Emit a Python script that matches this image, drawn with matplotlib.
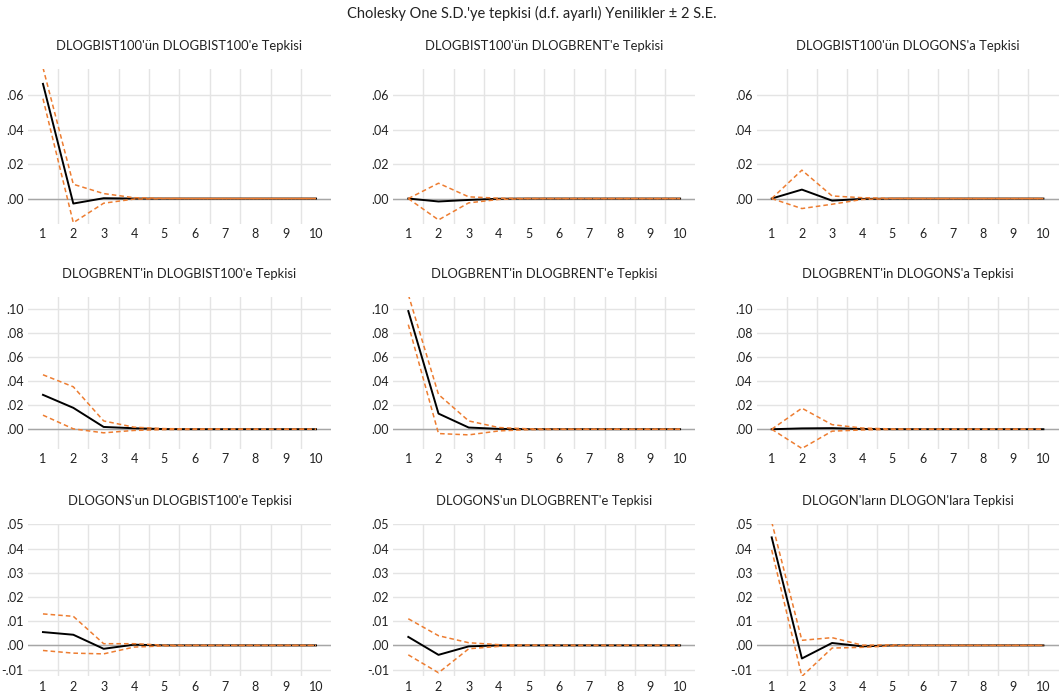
import numpy as np
import matplotlib
matplotlib.use("Agg")
from matplotlib import pyplot as plt
from matplotlib.ticker import FuncFormatter, MultipleLocator

plt.rcParams["font.family"] = ["Lato", "DejaVu Sans"]

steps = np.arange(1, 11)

titles = [
    "DLOGBIST100'ün DLOGBIST100'e Tepkisi",
    "DLOGBIST100'ün DLOGBRENT'e Tepkisi",
    "DLOGBIST100'ün DLOGONS'a Tepkisi",
    "DLOGBRENT'in DLOGBIST100'e Tepkisi",
    "DLOGBRENT'in DLOGBRENT'e Tepkisi",
    "DLOGBRENT'in DLOGONS'a Tepkisi",
    "DLOGONS'un DLOGBIST100'e Tepkisi",
    "DLOGONS'un DLOGBRENT'e Tepkisi",
    "DLOGON'ların DLOGON'lara Tepkisi",
]

# impulse responses
resp = [
    [0.0666, -0.0029, 0.0002, 0.0000, 0, 0, 0, 0, 0, 0],
    [0.0000, -0.0017, -0.0008, -0.0001, 0, 0, 0, 0, 0, 0],
    [0.0000, 0.0052, -0.0012, -0.0002, 0, 0, 0, 0, 0, 0],
    [0.0286, 0.0178, 0.0019, 0.0008, 0.0001, 0, 0, 0, 0, 0],
    [0.0983, 0.0130, 0.0014, 0.0003, 0, 0, 0, 0, 0, 0],
    [0.0000, 0.0007, 0.0009, 0.0002, 0, 0, 0, 0, 0, 0],
    [0.0055, 0.0044, -0.0014, 0.0003, 0, 0, 0, 0, 0, 0],
    [0.0035, -0.0039, -0.0004, 0.0000, 0, 0, 0, 0, 0, 0],
    [0.0446, -0.0054, 0.0010, -0.0004, 0, 0, 0, 0, 0, 0],
]
upper = [
    [0.0760, 0.0083, 0.0029, 0.0005, 0.0001, 0, 0, 0, 0, 0],
    [0.0000, 0.0089, 0.0010, 0.0002, 0, 0, 0, 0, 0, 0],
    [0.0000, 0.0165, 0.0015, 0.0005, 0.0001, 0, 0, 0, 0, 0],
    [0.0453, 0.0353, 0.0069, 0.0017, 0.0005, 0.0002, 0.0001, 0, 0, 0],
    [0.1120, 0.0289, 0.0069, 0.0014, 0.0003, 0.0001, 0, 0, 0, 0],
    [0.0000, 0.0175, 0.0038, 0.0010, 0.0002, 0, 0, 0, 0, 0],
    [0.0130, 0.0120, 0.0007, 0.0007, 0.0001, 0, 0, 0, 0, 0],
    [0.0110, 0.0040, 0.0011, 0.0003, 0.0001, 0, 0, 0, 0, 0],
    [0.0510, 0.0021, 0.0032, 0.0001, 0.0002, 0, 0, 0, 0, 0],
]
lower = [
    [0.0580, -0.0140, -0.0027, -0.0003, 0, 0, 0, 0, 0, 0],
    [0.0000, -0.0124, -0.0025, -0.0005, 0, 0, 0, 0, 0, 0],
    [0.0000, -0.0058, -0.0033, -0.0005, 0, 0, 0, 0, 0, 0],
    [0.0117, 0.0003, -0.0030, -0.0010, -0.0003, -0.0001, 0, 0, 0, 0],
    [0.0870, -0.0036, -0.0047, -0.0014, -0.0003, -0.0001, 0, 0, 0, 0],
    [0.0000, -0.0160, -0.0016, -0.0006, -0.0001, 0, 0, 0, 0, 0],
    [-0.0021, -0.0032, -0.0035, -0.0007, -0.0002, 0, 0, 0, 0, 0],
    [-0.0039, -0.0113, -0.0014, -0.0004, 0, 0, 0, 0, 0, 0],
    [0.0394, -0.0128, -0.0011, -0.0008, -0.0002, 0, 0, 0, 0, 0],
]

row_ylims = [(-0.0146, 0.075), (-0.0167, 0.11), (-0.0128, 0.05)]
row_ystep = [0.02, 0.02, 0.01]
# axes boxes in pixels: (top, bottom) per row, (left, right) per column
row_px = [(69.4, 223.7), (297.0, 449.3), (524.3, 676.4)]
col_px = [(27.8, 331.2), (393.2, 695.2), (756.6, 1058.5)]
W, H = 1064, 700

def fmt(v, pos):
    s = f"{v:.2f}"
    return s.replace("0.", ".", 1)

fig = plt.figure(figsize=(W/100, H/100), dpi=100)
fig.text(0.5, 1 - 13/H, "Cholesky One S.D.'ye tepkisi (d.f. ayarlı) Yenilikler ± 2 S.E.",
         ha="center", va="center", fontsize=10.5, color="#222222")

orange = "#ED7D31"
for i in range(9):
    r, c = divmod(i, 3)
    top, bot = row_px[r]
    left, right = col_px[c]
    ax = fig.add_axes([left/W, 1 - bot/H, (right-left)/W, (bot-top)/H])
    ax.set_xlim(0.5, 10.5)
    ax.set_ylim(*row_ylims[r])
    ax.yaxis.set_major_locator(MultipleLocator(row_ystep[r]))
    ax.yaxis.set_major_formatter(FuncFormatter(fmt))
    ax.set_xticks(steps)
    ax.set_xticks(np.arange(1.5, 10.5, 1), minor=True)
    ax.grid(True, axis="y", which="major", color="#e4e4e4", lw=1)
    ax.grid(True, axis="x", which="minor", color="#e4e4e4", lw=1)
    ax.set_axisbelow(True)
    for s in ax.spines.values():
        s.set_visible(False)
    ax.tick_params(which="both", length=0, labelsize=9, colors="#222222", pad=3)
    ax.axhline(0, color="#a6a6a6", lw=1, zorder=1)
    ax.plot(steps, resp[i], color="black", lw=1.4, zorder=3)
    ax.plot(steps, upper[i], color=orange, lw=1.1, ls=(0, (3, 2)), zorder=4)
    ax.plot(steps, lower[i], color=orange, lw=1.1, ls=(0, (3, 2)), zorder=4)
    ax.set_title(titles[i], fontsize=9.4, color="#222222", pad=14)

fig.savefig("out.png", dpi=100)
